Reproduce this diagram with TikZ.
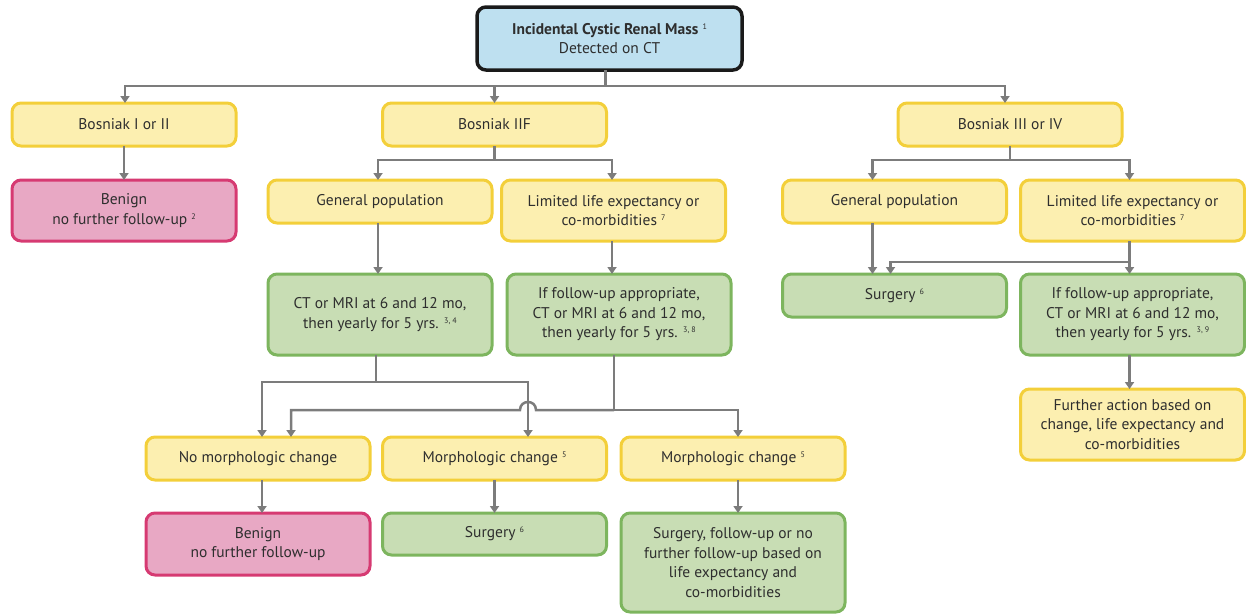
\documentclass[tikz,border=0pt]{standalone}
\usepackage{fontspec}
\setmainfont{PT Sans}
\usetikzlibrary{arrows.meta,calc}
\definecolor{yfill}{HTML}{FCEFB0}
\definecolor{ydraw}{HTML}{F3CF3A}
\definecolor{pfill}{HTML}{E8A8C4}
\definecolor{pdraw}{HTML}{D63A72}
\definecolor{gfill}{HTML}{C8DDB4}
\definecolor{gdraw}{HTML}{7DB55E}
\definecolor{bfill}{HTML}{BEE0F0}
\definecolor{bdraw}{HTML}{1A1A1A}
\definecolor{lgray}{HTML}{7C7C7C}
\definecolor{txt}{HTML}{2E2E2E}
\newcommand{\fnum}[1]{{\fontsize{8}{8}\selectfont\raisebox{5pt}{#1}}}
\tikzset{
  x=1pt, y=-1pt,
  box/.style={rounded corners=9pt, line width=3pt, align=center, inner sep=0pt,
    outer sep=0pt, text=txt, font=\fontsize{15.5}{19.5}\selectfont, minimum width=#1},
  box/.default=224pt,
  ybox/.style={box, fill=yfill, draw=ydraw},
  pbox/.style={box, fill=pfill, draw=pdraw},
  gbox/.style={box, fill=gfill, draw=gdraw},
  tbox/.style={box=265pt, fill=bfill, draw=bdraw, line width=3.5pt},
  conn/.style={draw=lgray, line width=2.5pt},
  arr/.style={conn, -{Triangle[width=9pt,length=7pt]}},
}
\begin{document}
\begin{tikzpicture}
\useasboundingbox (0,0) rectangle (1246,614);
% nodes
\node[tbox, minimum height=63pt] (top) at (609.5,38.5) {\textbf{Incidental Cystic Renal Mass} \fnum{1}\\Detected on CT};
\node[ybox, minimum height=43pt] (b12) at (124,124.5) {Bosniak I or II};
\node[ybox=225pt, minimum height=43pt] (b2f) at (494.5,124.5) {Bosniak IIF};
\node[ybox, minimum height=43pt] (b34) at (1010,124.5) {Bosniak III or IV};
\node[pbox, minimum height=61pt] (ben1) at (124,210.5) {Benign\\no further follow-up \fnum{2}};
\node[ybox, minimum height=43pt] (gp1) at (380,201.5) {General population};
\node[ybox=213pt, minimum height=61pt] (lle1) at (613.5,210.5) {Limited life expectancy or\\co-morbidities \fnum{7}};
\node[ybox=223pt, minimum height=43pt] (gp2) at (894.5,201.5) {General population};
\node[ybox=223pt, minimum height=61pt] (lle2) at (1132.5,210.5) {Limited life expectancy or\\co-morbidities \fnum{7}};
\node[gbox, minimum height=81pt] (ct1) at (380,314.5) {CT or MRI at 6 and 12 mo,\\then yearly for 5 yrs. \fnum{3, 4}};
\node[gbox, minimum height=81pt] (fu1) at (619,314.5) {If follow-up appropriate,\\CT or MRI at 6 and 12 mo,\\then yearly for 5 yrs. \fnum{3, 8}};
\node[gbox=223pt, minimum height=43pt] (surg2) at (894.5,295.5) {Surgery \fnum{6}};
\node[gbox=223pt, minimum height=81pt] (fu2) at (1132.5,314.5) {If follow-up appropriate,\\CT or MRI at 6 and 12 mo,\\then yearly for 5 yrs. \fnum{3, 9}};
\node[ybox=223pt, minimum height=71pt] (fa) at (1132.5,424.5) {Further action based on\\change, life expectancy and\\co-morbidities};
\node[ybox, minimum height=43pt] (nmc) at (258,458.5) {No morphologic change};
\node[ybox=225pt, minimum height=43pt] (mc1) at (494.5,458.5) {Morphologic change \fnum{5}};
\node[ybox, minimum height=43pt] (mc2) at (733,458.5) {Morphologic change \fnum{5}};
\node[pbox, minimum height=62pt] (ben2) at (258,544) {Benign\\no further follow-up};
\node[gbox=225pt, minimum height=42pt] (surg1) at (494.5,534) {Surgery \fnum{6}};
\node[gbox, minimum height=99pt] (sfu) at (733,562.5) {Surgery, follow-up or no\\further follow-up based on\\life expectancy and\\co-morbidities};
% connectors: top level
\draw[arr] ([xshift=-4pt]top.south) -- ++(0,16) -| ([xshift=1pt]b12.north);
\draw[arr] ([xshift=-4pt]top.south) -- ++(0,16) -| (b2f.north);
\draw[arr] ([xshift=-4pt]top.south) -- ++(0,16) -| ([xshift=-5pt]b34.north);
\draw[arr] (b12.south) -- (ben1.north);
% IIF branch
\draw[arr] (b2f.south) -- ++(0,14) -| ([xshift=-2pt]gp1.north);
\draw[arr] (b2f.south) -- ++(0,14) -| ([xshift=-1.5pt]lle1.north);
\draw[arr] ([xshift=-2pt]gp1.south) -- ([xshift=-2pt]ct1.north);
\draw[arr] ([xshift=-1.5pt]lle1.south) -- ([xshift=-7pt]fu1.north);
% III/IV branch
\draw[arr] (b34.south) -- ++(0,14) -| ([xshift=-22pt]gp2.north);
\draw[arr] (b34.south) -- ++(0,14) -| ([xshift=-3pt]lle2.north);
\draw[arr] ([xshift=-22pt]gp2.south) -- ([xshift=-22pt]surg2.north);
\draw[arr] ([xshift=-3pt]lle2.south) -- ++(0,21) -| ([xshift=-4pt]surg2.north);
\draw[arr] ([xshift=-3pt]lle2.south) -- ([xshift=-3pt]fu2.north);
\draw[arr] ([xshift=-3pt]fu2.south) -- ([xshift=-3pt]fa.north);
% CT general population branch
\draw[arr] ([xshift=-4pt]ct1.south) -- ++(0,27) -| ([xshift=4pt]nmc.north);
\draw[arr] ([xshift=-4pt]ct1.south) -- ++(0,27) -| ([xshift=33.5pt]mc1.north);
% follow-up branch with hop
\coordinate (fuj) at ($([xshift=-5pt]fu1.south)+(0,55)$);
\coordinate (hopR) at ($([xshift=33.5pt]mc1.north)+(8,0)$);
\coordinate (hopL) at ($([xshift=33.5pt]mc1.north)+(-8,0)$);
\draw[arr] (fuj) -- (hopR |- fuj)
  .. controls ($(hopR |- fuj)+(0,-10.7)$) and ($(hopL |- fuj)+(0,-10.7)$) .. (hopL |- fuj)
  -| ([xshift=33pt]nmc.north);
\draw[conn] ([xshift=-5pt]fu1.south) -- (fuj);
\draw[arr] (fuj) -| ([xshift=5pt]mc2.north);
% bottom
\draw[arr] ([xshift=4pt]nmc.south) -- ([xshift=4pt]ben2.north);
\draw[arr] (mc1.south) -- (surg1.north);
\draw[arr] ([xshift=5pt]mc2.south) -- ([xshift=5pt]sfu.north);
\end{tikzpicture}
\end{document}
